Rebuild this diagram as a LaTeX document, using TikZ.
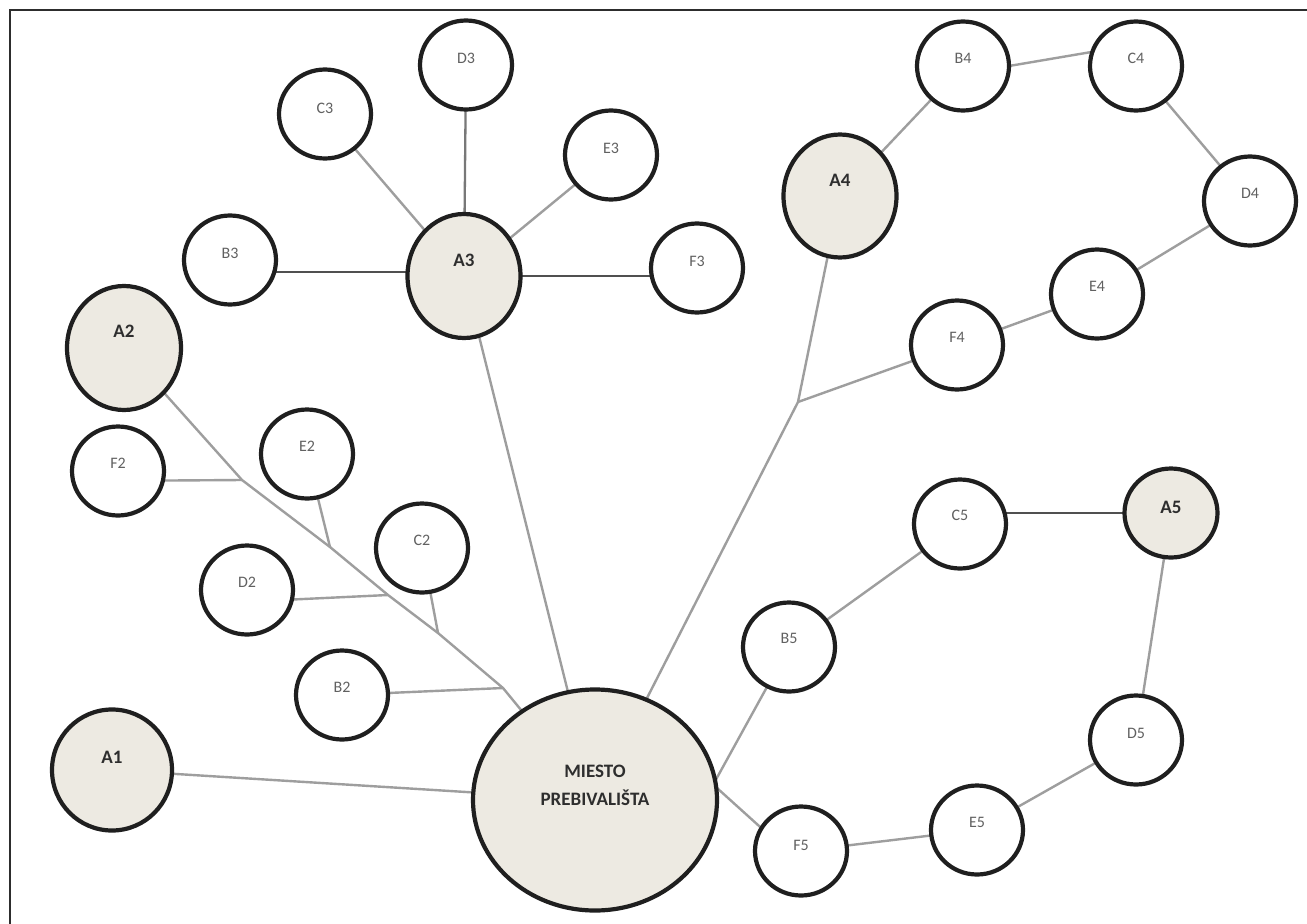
\documentclass[tikz,border=0pt]{standalone}
\usepackage{fontspec}
\setmainfont{Carlito}
\usetikzlibrary{shapes.geometric}
\definecolor{beige}{RGB}{237,234,226}
\definecolor{conn}{RGB}{158,158,158}
\definecolor{connm}{RGB}{120,120,120}
\definecolor{connd}{RGB}{80,80,80}
\definecolor{framec}{RGB}{45,45,45}
\pgfdeclarelayer{bg}
\pgfsetlayers{bg,main}
\begin{document}
\begin{tikzpicture}[x=1pt,y=-1pt,
  circ/.style={ellipse, draw=black!88, line width=4.2pt, inner sep=0pt, outer sep=0pt},
  sm/.style={circ, fill=white, minimum width=92pt, minimum height=89pt},
  big/.style={circ, fill=beige},
  sl/.style={font=\fontsize{16}{17}\selectfont, text=black!62},
  bl/.style={font=\bfseries\fontsize{19}{21}\selectfont, text=black!82},
  lnk/.style={draw=conn, line width=2.4pt},
  lnkm/.style={draw=connm, line width=2.3pt},
  lnkd/.style={draw=connd, line width=2.1pt},
]
\useasboundingbox (0,0) rectangle (1307,924);
\begin{pgfonlayer}{bg}
  \fill[white] (0,0) rectangle (1307,924);
\end{pgfonlayer}
\draw[framec, line width=2.6pt] (10,924) -- (10,10) -- (1307,10);

% central node
\node[big, minimum width=244pt, minimum height=221pt,
      label={[yshift=15pt, font=\bfseries\fontsize{19}{28}\selectfont, text=black!82, align=center]center:MIESTO\\PREBIVALIŠTA}] (M) at (595,800) {};

% A nodes
\node[big, minimum width=120pt, minimum height=121pt, label={[bl,yshift=13pt]center:A1}] (A1) at (112,770) {};
\node[big, minimum width=114pt, minimum height=124pt, label={[bl,yshift=17pt]center:A2}] (A2) at (124,348) {};
\node[big, minimum width=113pt, minimum height=124pt, label={[bl,yshift=16pt]center:A3}] (A3) at (464,276) {};
\node[big, minimum width=113pt, minimum height=123pt, label={[bl,yshift=16pt]center:A4}] (A4) at (840,196) {};
\node[big, minimum width=93pt, minimum height=89pt, label={[bl,yshift=6pt]center:A5}] (A5) at (1171,513) {};

% group 2
\node[sm, label={[sl,yshift=8pt]center:F2}] (F2) at (118,471) {};
\node[sm, label={[sl,yshift=8pt]center:E2}] (E2) at (307,454) {};
\node[sm, label={[sl,yshift=8pt]center:C2}] (C2) at (422,548) {};
\node[sm, label={[sl,yshift=8pt]center:D2}] (D2) at (247,590) {};
\node[sm, label={[sl,yshift=8pt]center:B2}] (B2) at (342,695) {};

% group 3
\node[sm, label={[sl,yshift=7pt]center:B3}] (B3) at (230,260) {};
\node[sm, label={[sl,yshift=6pt]center:C3}] (C3) at (325,114) {};
\node[sm, label={[sl,yshift=7pt]center:D3}] (D3) at (466,65) {};
\node[sm, label={[sl,yshift=7pt]center:E3}] (E3) at (611,155) {};
\node[sm, label={[sl,yshift=7pt]center:F3}] (F3) at (697,268) {};

% group 4
\node[sm, label={[sl,yshift=8pt]center:B4}] (B4) at (963,66) {};
\node[sm, label={[sl,yshift=8pt]center:C4}] (C4) at (1136,66) {};
\node[sm, label={[sl,yshift=8pt]center:D4}] (D4) at (1250,201) {};
\node[sm, label={[sl,yshift=8pt]center:E4}] (E4) at (1097,294) {};
\node[sm, label={[sl,yshift=8pt]center:F4}] (F4) at (957,345) {};

% group 5
\node[sm, label={[sl,yshift=9pt]center:C5}] (C5) at (960,524) {};
\node[sm, label={[sl,yshift=9pt]center:B5}] (B5) at (789,647) {};
\node[sm, label={[sl,yshift=7pt]center:D5}] (D5) at (1136,740) {};
\node[sm, label={[sl,yshift=8pt]center:E5}] (E5) at (977,830) {};
\node[sm, label={[sl,yshift=6pt]center:F5}] (F5) at (801,851) {};

% junctions
\coordinate (j1) at (242,480);
\coordinate (j2) at (330,547);
\coordinate (j3) at (388,595);
\coordinate (j4) at (438,633);
\coordinate (j5) at (503,688);
\coordinate (j6) at (798,402);

\begin{pgfonlayer}{bg}
  \draw[lnk] (A2) -- (j1) -- (j2) -- (j3) -- (j4) -- (j5) -- (M);
  \draw[lnk] (F2.-12) -- (j1);
  \draw[lnk] (E2) -- (j2);
  \draw[lnk] (D2.-12) -- (j3);
  \draw[lnk] (C2) -- (j4);
  \draw[lnk] (B2) -- (j5);

  \draw[lnk] (A1) -- (M);
  \draw[lnk] (A3) -- (M);
  \draw[lnk] (A4) -- (j6) -- (M);
  \draw[lnk] (F4) -- (j6);

  \draw[lnkd] (B3.-15) -- (B3.-15 -| A3.west);
  \draw[lnk] (C3) -- (A3);
  \draw[lnkm] (D3) -- (A3);
  \draw[lnk] (E3) -- (A3);
  \draw[lnkd] (A3.east) -- (A3.east -| F3.west);

  \draw[lnk] (A4) -- (B4);
  \draw[lnk] (B4.east) -- (C4.162);
  \draw[lnk] (C4) -- (D4) -- (E4) -- (F4);

  \draw[lnkd] (A5.west) -- (A5.west -| C5.east);
  \draw[lnk] (B5) -- (C5);
  \draw[lnk] (A5) -- (D5) -- (E5) -- (F5);
  \draw[lnk] (M.9) -- (B5);
  \draw[lnk] (M.6) -- (F5.150);
\end{pgfonlayer}
\end{tikzpicture}
\end{document}
